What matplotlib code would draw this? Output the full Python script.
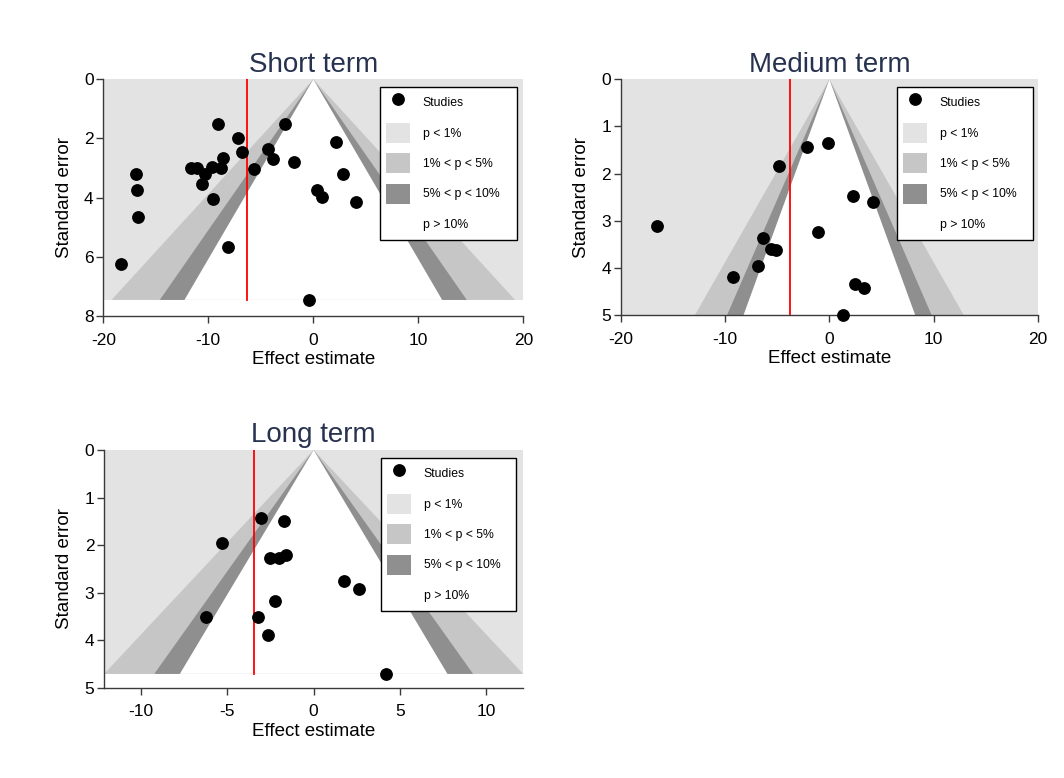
import matplotlib
matplotlib.use("Agg")
import matplotlib.pyplot as plt
from matplotlib.lines import Line2D
from matplotlib.patches import Patch
import numpy as np

plt.rcParams['font.family'] = ['Liberation Sans', 'DejaVu Sans']
plt.rcParams['axes.unicode_minus'] = False

# ---------------- data ----------------
short_effect = [-9.05, -2.67, -7.17, 2.16, -4.29, -6.82, -8.57, -3.87, -1.81,
                -11.6, -11.1, -9.68, -8.82, -5.62, -10.29, -10.57, -16.89,
                -16.82, -16.67, 2.86, 0.38, 0.80, 4.07, -9.55, -8.10, -18.34, -0.38]
short_se = [1.52, 1.51, 2.00, 2.12, 2.35, 2.47, 2.66, 2.71, 2.81,
            3.01, 3.00, 2.95, 2.99, 3.04, 3.21, 3.54, 3.19,
            3.73, 4.67, 3.21, 3.74, 3.98, 4.15, 4.06, 5.68, 6.24, 7.46]
short_pooled = -6.34

medium_effect = [-0.1, -2.17, -4.82, 2.27, 4.22, -16.55, -1.05, -6.39, -5.62,
                 -5.14, -6.80, -9.20, 2.49, 3.35, 1.31]
medium_se = [1.36, 1.43, 1.83, 2.47, 2.60, 3.11, 3.24, 3.36, 3.60,
             3.62, 3.97, 4.19, 4.35, 4.43, 5.01]
medium_pooled = -3.74

long_effect = [-3.03, -1.72, -5.29, -2.55, -2.03, -1.60, 1.78, 2.63, -2.26,
               -6.22, -3.22, -2.63, 4.21]
long_se = [1.44, 1.50, 1.95, 2.28, 2.28, 2.20, 2.75, 2.93, 3.18,
           3.52, 3.52, 3.89, 4.71]
long_pooled = -3.44

panel_titles = ["Short term", "Medium term", "Long term"]
legend_labels = ["Studies", "p < 1%", "1% < p < 5%", "5% < p < 10%", "p > 10%"]
z_levels = [2.576, 1.960, 1.645]

# ---------------- style ----------------
C_LIGHT = '#e3e3e3'
C_MID = '#c6c6c6'
C_DARK = '#8f8f8f'
TITLE_COLOR = '#27324f'
SPINE = '#3a3a3a'

W, H = 1064, 778
fig = plt.figure(figsize=(W / 100, H / 100), dpi=100)


def ax_at(x0, x1, y0, y1):
    return fig.add_axes([x0 / W, 1 - y1 / H, (x1 - x0) / W, (y1 - y0) / H])


def funnel(ax, eff, se, pooled, title, xlim, ylim, xticks, yticks, legpos):
    semax = max(se)
    ax.set_xlim(*xlim)
    ax.set_ylim(ylim, 0)
    ax.fill_between([xlim[0], xlim[1]], 0, semax, color=C_LIGHT, lw=0, zorder=0)
    cols = [C_MID, C_DARK, 'white']
    for z, c in zip(z_levels, cols):
        ax.fill([0, -z * semax, z * semax], [0, semax, semax], color=c, lw=0, zorder=1)
    ax.plot([pooled, pooled], [0, semax], color='red', lw=1.3, zorder=2)
    ax.plot(eff, se, 'o', color='black', ms=8.2, zorder=3, clip_on=False)
    ax.set_xticks(xticks)
    ax.set_yticks(yticks)
    for s in ['top', 'right']:
        ax.spines[s].set_visible(False)
    for s in ['left', 'bottom']:
        ax.spines[s].set_color(SPINE)
        ax.spines[s].set_linewidth(1.0)
    ax.tick_params(direction='out', length=5, width=1.0, color=SPINE,
                   labelsize=12.5, pad=2)
    ax.tick_params(axis='x', pad=7)
    ax.set_xlabel("Effect estimate", fontsize=13.5, labelpad=2.5)
    ax.set_ylabel("Standard error", fontsize=13.5, labelpad=8)
    ax.set_title(title, fontsize=20, color=TITLE_COLOR, pad=5.5)

    handles = [Line2D([], [], marker='o', color='black', ls='none', ms=8.2),
               Patch(facecolor=C_LIGHT, edgecolor='none'),
               Patch(facecolor=C_MID, edgecolor='none'),
               Patch(facecolor=C_DARK, edgecolor='none'),
               Patch(facecolor='white', edgecolor='none')]
    lx0, ly0, lx1 = legpos
    leg = ax.legend(handles, legend_labels, loc='upper left',
                    bbox_to_anchor=(lx0 / W, 1 - ly0 / H, (lx1 - lx0) / W, 0.0),
                    bbox_transform=fig.transFigure, mode='expand',
                    fontsize=8.8, handlelength=1.97, handleheight=2.14,
                    labelspacing=0.85, handletextpad=1.07, borderpad=0.45,
                    borderaxespad=0, fancybox=False, framealpha=1,
                    edgecolor='black')
    leg.get_frame().set_linewidth(1.0)
    leg.set_zorder(5)


ax1 = ax_at(103.3, 523.3, 79.3, 315.9)
funnel(ax1, short_effect, short_se, short_pooled, panel_titles[0],
       (-20, 20), 8, [-20, -10, 0, 10, 20], [0, 2, 4, 6, 8], (380, 87, 516.5))

ax2 = ax_at(620.7, 1038, 79.3, 315)
funnel(ax2, medium_effect, medium_se, medium_pooled, panel_titles[1],
       (-20, 20), 5, [-20, -10, 0, 10, 20], [0, 1, 2, 3, 4, 5], (897, 87, 1033))

ax3 = ax_at(104, 523.3, 450, 687.7)
funnel(ax3, long_effect, long_se, long_pooled, panel_titles[2],
       (-12.14, 12.14), 5, [-10, -5, 0, 5, 10], [0, 1, 2, 3, 4, 5], (381, 458, 516))

fig.savefig("out.png", dpi=100)
